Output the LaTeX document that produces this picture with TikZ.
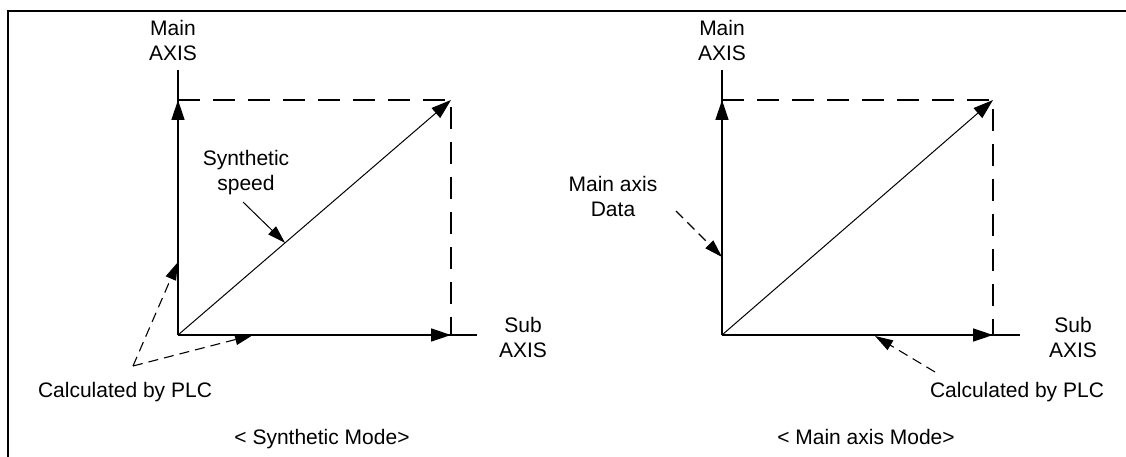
\documentclass[tikz,border=0pt]{standalone}
\usepackage{fontspec}
\setmainfont{Liberation Sans}
\usetikzlibrary{arrows.meta,calc}
\tikzset{
  lbl/.style={inner sep=0pt, align=center, font=\fontsize{21}{25}\selectfont},
  frameline/.style={line width=2pt},
  axisline/.style={line width=1.5pt},
  axisarrow/.style={line width=1.5pt, -{Triangle[length=20pt,width=13pt]}},
  diagarrow/.style={line width=1pt, -{Triangle[length=20pt,width=13pt]}},
  guide/.style={line width=1.2pt, dash pattern=on 22pt off 13pt},
  callout/.style={line width=1pt, -{Triangle[length=18pt,width=11pt]}},
  dcallout/.style={line width=1.1pt, dash pattern=on 10pt off 6pt, -{Triangle[length=18pt,width=11pt]}}
}
\begin{document}
\begin{tikzpicture}[x=1pt,y=-1pt]
\useasboundingbox (0,0) rectangle (1126,457);
% frame
\draw[frameline] (8,457) -- (8,11) -- (1126,11);

% ---------- left: synthetic mode ----------
\coordinate (O1) at (178,335);
\coordinate (T1) at (178,70);
\coordinate (Y1) at (178,100);
\coordinate (P1) at (451,100);
\coordinate (X1) at (451,335);
\coordinate (E1) at (477,335);
\draw[axisline] (O1) -- (T1);
\draw[axisline] (O1) -- (E1);
\draw[axisarrow] (O1) -- (Y1);
\draw[axisarrow] (O1) -- (X1);
\draw[guide] (Y1) -- (P1) -- (X1);
\draw[diagarrow] (O1) -- (P1);

\node[lbl] (main1) at (173,40) {Main\\AXIS};
\node[lbl] (sub1) at (523,337.5) {Sub\\AXIS};
\node[lbl] (syn) at (246,173) {Synthetic\\speed};
\coordinate (synS) at (243,202);
\coordinate (synT) at ($(O1)!0.392!(P1)$);
\draw[callout] (synS) -- (synT);

\node[lbl, anchor=base] (calc1) at (125,397) {Calculated by PLC};
\coordinate (c1) at (133,366);
\coordinate (c1a) at (178,262);
\coordinate (c1b) at (253,335);
\draw[dcallout] (c1) -- (c1a);
\draw[dcallout] (c1) -- (c1b);

\node[lbl, anchor=base] (mode1) at (322,444) {< Synthetic Mode>};

% ---------- right: main axis mode ----------
\coordinate (O2) at (722,335);
\coordinate (T2) at (722,70);
\coordinate (Y2) at (722,100);
\coordinate (P2) at (993,100);
\coordinate (X2) at (993,335);
\coordinate (E2) at (1020,335);
\draw[axisline] (O2) -- (T2);
\draw[axisline] (O2) -- (E2);
\draw[axisarrow] (O2) -- (Y2);
\draw[axisarrow] (O2) -- (X2);
\draw[guide] (Y2) -- (P2) -- (X2);
\draw[diagarrow] (O2) -- (P2);

\node[lbl] (main2) at (722,40) {Main\\AXIS};
\node[lbl] (sub2) at (1073,337.5) {Sub\\AXIS};
\node[lbl] (mad) at (613,196.5) {Main axis\\Data};
\coordinate (m2s) at (676,211);
\coordinate (m2t) at (722,257);
\draw[dcallout] (m2s) -- (m2t);

\node[lbl, anchor=base] (calc2) at (1017,397) {Calculated by PLC};
\coordinate (c2s) at (935,372);
\coordinate (c2t) at (875,336);
\draw[dcallout] (c2s) -- (c2t);

\node[lbl, anchor=base] (mode2) at (866,444) {< Main axis Mode>};
\end{tikzpicture}
\end{document}
